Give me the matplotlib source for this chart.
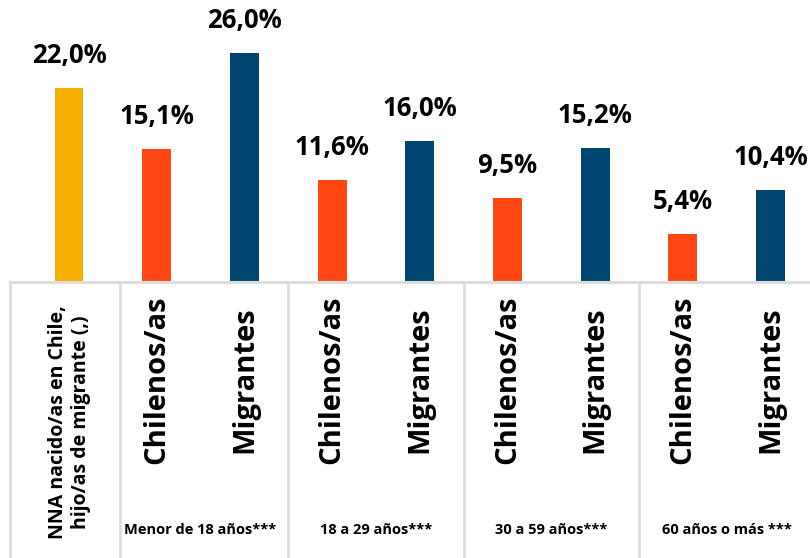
import matplotlib
matplotlib.use("Agg")
import matplotlib.pyplot as plt

# datos del gráfico
categorias = ["NNA nacido/as en Chile,\nhijo/as de migrante (,)",
              "Chilenos/as", "Migrantes",
              "Chilenos/as", "Migrantes",
              "Chilenos/as", "Migrantes",
              "Chilenos/as", "Migrantes"]
valores = [22.0, 15.1, 26.0, 11.6, 16.0, 9.5, 15.2, 5.4, 10.4]
grupos = ["Menor de 18 años***", "18 a 29 años***", "30 a 59 años***", "60 años o más ***"]

colores = ["#F8B000"] + ["#FF4713", "#00456F"] * 4
gris = "#DDDDDD"

plt.rcParams['font.family'] = ['Open Sans', 'DejaVu Sans']

fig = plt.figure(figsize=(8.1, 5.58), dpi=100)
xlim = (-0.787, 8.449)

# parte superior: barras
ax = fig.add_axes([0, 0.4955, 1, 0.5045])
x = list(range(len(valores)))
ax.bar(x, valores, width=0.33, color=colores)
for xi, v in zip(x, valores):
    ax.annotate(f"{v:.1f}%".replace(".", ","), (xi, v), xytext=(0, 18),
                textcoords="offset points", ha="center", va="baseline",
                fontsize=18.5, fontweight="bold")
ax.set_xlim(*xlim)
ax.set_ylim(0, 32.06)
ax.axis("off")

# parte inferior: tabla de etiquetas
ax2 = fig.add_axes([0, 0, 1, 0.4955])
ax2.set_xlim(*xlim)
ax2.set_ylim(0, 1)
ax2.axis("off")
ax2.plot([-0.67, xlim[1]], [1, 1], color=gris, lw=2.2, clip_on=False)
for sx in [-0.67, 0.58, 2.5, 4.5, 6.5]:
    ax2.plot([sx, sx], [0, 1], color=gris, lw=2, clip_on=False)

ax2.text(0.0, 0.49, categorias[0], rotation=90, ha="center", va="center",
         fontsize=14, fontweight="bold", multialignment="center")
for xi, lab in zip(x[1:], categorias[1:]):
    ax2.text(xi, 0.644, lab, rotation=90, ha="center", va="center",
             fontsize=21, fontweight="bold")
for i, g in enumerate(grupos):
    ax2.text(1.5 + 2 * i, 0.101, g, ha="center", va="center",
             fontsize=10.5, fontweight="bold")

fig.savefig("out.png", dpi=100)
